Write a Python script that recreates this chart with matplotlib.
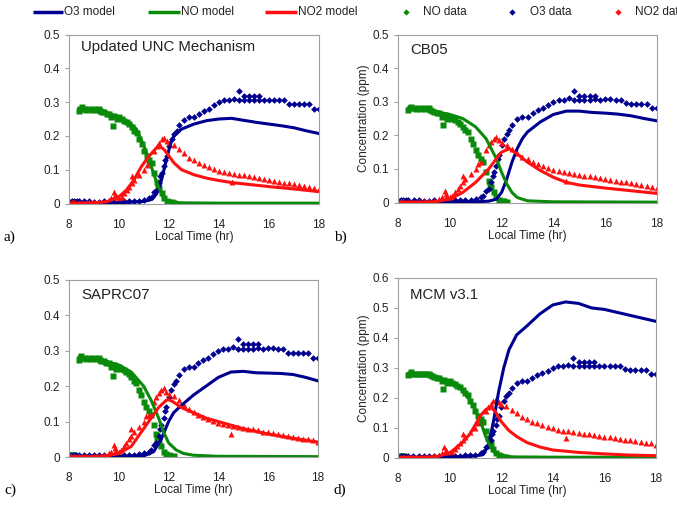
import matplotlib
matplotlib.use("Agg")
import matplotlib.pyplot as plt
from matplotlib.lines import Line2D

plt.rcParams['font.family'] = ['Liberation Sans', 'DejaVu Sans']

# ---------------- observed data (same in every panel) ----------------
obs_o3_t = [8.1, 8.2, 8.3, 8.4, 8.6, 8.8, 9.0, 9.2, 9.4, 9.6, 9.8, 10.0, 10.2, 10.4, 10.6, 10.8,
            11.0, 11.2, 11.3, 11.4, 11.5, 11.6, 11.65, 11.7, 11.8, 11.85, 11.9, 12.0, 12.1,
            12.2, 12.3, 12.4, 12.6, 12.8, 13.0, 13.2, 13.4, 13.6, 13.8, 14.0, 14.2, 14.4,
            14.6, 14.8, 14.8, 15.0, 15.0, 15.2, 15.2, 15.4, 15.4, 15.6, 15.6, 15.8, 16.0,
            16.2, 16.4, 16.6, 16.8, 17.0, 17.2, 17.4, 17.6, 17.8, 18.0]
obs_o3_v = [0.006, 0.006, 0.006, 0.006, 0.006, 0.006, 0.005, 0.005, 0.006, 0.005, 0.005, 0.005,
            0.006, 0.006, 0.007, 0.008, 0.01, 0.015, 0.02, 0.034, 0.04, 0.06, 0.08, 0.09,
            0.11, 0.13, 0.14, 0.17, 0.19, 0.205, 0.215, 0.232, 0.248, 0.255, 0.255, 0.265,
            0.275, 0.281, 0.29, 0.3, 0.305, 0.305, 0.31, 0.333, 0.305, 0.318, 0.305, 0.318,
            0.305, 0.318, 0.305, 0.318, 0.307, 0.305, 0.307, 0.307, 0.305, 0.305, 0.295,
            0.293, 0.293, 0.293, 0.293, 0.28, 0.28]

obs_no_t = [8.1, 8.15, 8.2, 8.4, 8.45, 8.5, 8.6, 8.7, 8.8, 8.9, 9.0, 9.1, 9.2, 9.25, 9.3, 9.4,
            9.5, 9.6, 9.7, 9.75, 9.8, 9.9, 10.0, 10.1, 10.2, 10.3, 10.4, 10.5, 10.6,
            10.7, 10.8, 10.9, 11.0, 11.1, 11.2, 11.3, 11.4, 11.5, 11.55, 11.6, 11.7, 11.8,
            11.9, 12.0, 12.1, 12.2]
obs_no_v = [0.005, 0.005, 0.005, 0.275, 0.28, 0.285, 0.28, 0.278, 0.28, 0.278, 0.28, 0.278,
            0.28, 0.275, 0.272, 0.27, 0.265, 0.265, 0.255, 0.23, 0.26, 0.25, 0.255, 0.25,
            0.245, 0.24, 0.235, 0.225, 0.215, 0.21, 0.19, 0.175, 0.155, 0.14, 0.13, 0.12,
            0.09, 0.065, 0.05, 0.045, 0.03, 0.015, 0.008, 0.005, 0.003, 0.002]

obs_no2_t = [8.1, 8.2, 8.4, 8.6, 8.8, 9.0, 9.2, 9.4, 9.6, 9.7, 9.8, 9.85, 9.9, 10.0, 10.1,
             10.2, 10.3, 10.4, 10.5, 10.5, 10.6, 10.8, 11.0, 11.1, 11.2, 11.4, 11.5, 11.6,
             11.7, 11.8, 11.9, 12.0, 12.2, 12.4, 12.6, 12.8, 13.0, 13.2, 13.4, 13.6, 13.8,
             14.0, 14.2, 14.4, 14.5, 14.6, 14.8, 15.0, 15.2, 15.4, 15.6, 15.8, 16.0, 16.2,
             16.4, 16.6, 16.8, 17.0, 17.2, 17.4, 17.6, 17.8, 18.0]
obs_no2_v = [0.003, 0.003, 0.002, 0.002, 0.003, 0.003, 0.003, 0.005, 0.01, 0.015, 0.035,
             0.025, 0.02, 0.015, 0.02, 0.03, 0.04, 0.05, 0.06, 0.08, 0.07, 0.085, 0.1,
             0.115, 0.12, 0.155, 0.17, 0.18, 0.19, 0.195, 0.185, 0.178, 0.172, 0.16, 0.148,
             0.136, 0.128, 0.12, 0.114, 0.108, 0.102, 0.097, 0.093, 0.09, 0.065, 0.088,
             0.085, 0.083, 0.08, 0.078, 0.075, 0.072, 0.07, 0.067, 0.064, 0.062, 0.06,
             0.057, 0.055, 0.052, 0.05, 0.047, 0.042]

# ---------------- model results per mechanism ----------------
panel_titles = ["Updated UNC Mechanism", "CB05", "SAPRC07", "MCM v3.1"]
panel_tags = ["a)", "b)", "c)", "d)"]
y_max = [0.5, 0.5, 0.5, 0.6]

o3_t = [[8.1, 9.0, 10.0, 11.0, 11.3, 11.5, 11.6, 11.7, 11.8, 11.9, 12.0, 12.1, 12.2, 12.5, 13.0, 13.5, 14.0, 14.5, 15.0, 15.5, 16.0, 16.5, 17.0, 17.5, 18.0],
        [8.1, 9.0, 10.0, 11.0, 11.5, 11.8, 12.0, 12.2, 12.4, 12.6, 12.8, 13.0, 13.5, 14.0, 14.5, 15.0, 15.5, 16.0, 16.5, 17.0, 17.5, 18.0],
        [8.1, 9.0, 10.0, 11.0, 11.4, 11.7, 12.0, 12.2, 12.5, 13.0, 13.5, 14.0, 14.5, 15.0, 15.5, 16.0, 16.5, 17.0, 17.5, 18.0],
        [8.1, 9.0, 10.0, 11.0, 11.3, 11.5, 11.7, 11.9, 12.1, 12.3, 12.6, 13.0, 13.5, 14.0, 14.5, 15.0, 15.5, 16.0, 16.5, 17.0, 17.5, 18.0]]
o3_v = [[0.001, 0.001, 0.002, 0.006, 0.012, 0.028, 0.045, 0.07, 0.1, 0.13, 0.16, 0.185, 0.2, 0.22, 0.235, 0.245, 0.25, 0.252, 0.246, 0.24, 0.235, 0.23, 0.224, 0.215, 0.207],
        [0.001, 0.001, 0.001, 0.002, 0.004, 0.01, 0.03, 0.07, 0.12, 0.16, 0.19, 0.21, 0.24, 0.262, 0.272, 0.272, 0.268, 0.266, 0.263, 0.258, 0.25, 0.243],
        [0.001, 0.001, 0.001, 0.003, 0.015, 0.05, 0.1, 0.125, 0.145, 0.175, 0.2, 0.225, 0.24, 0.242, 0.238, 0.237, 0.236, 0.233, 0.225, 0.215],
        [0.001, 0.001, 0.002, 0.005, 0.01, 0.04, 0.12, 0.22, 0.3, 0.36, 0.41, 0.44, 0.48, 0.51, 0.52, 0.515, 0.5, 0.495, 0.485, 0.475, 0.465, 0.455]]

no_t = [[8.4, 9.0, 9.5, 10.0, 10.4, 10.7, 11.0, 11.2, 11.4, 11.6, 11.8, 12.0, 12.5, 14.0, 18.0],
        [8.4, 9.0, 9.5, 10.0, 10.5, 11.0, 11.4, 11.8, 12.0, 12.2, 12.4, 12.6, 13.0, 14.0, 18.0],
        [8.4, 9.0, 9.5, 10.0, 10.5, 11.0, 11.3, 11.6, 11.8, 12.0, 12.3, 12.6, 13.0, 14.0, 18.0],
        [8.4, 9.0, 9.5, 10.0, 10.5, 10.8, 11.0, 11.2, 11.4, 11.5, 11.7, 12.0, 12.5, 14.0, 18.0]]
no_v = [[0.28, 0.276, 0.27, 0.255, 0.24, 0.22, 0.17, 0.13, 0.085, 0.045, 0.015, 0.005, 0.002, 0.001, 0.001],
        [0.28, 0.276, 0.27, 0.262, 0.25, 0.225, 0.19, 0.13, 0.09, 0.055, 0.03, 0.015, 0.005, 0.002, 0.001],
        [0.28, 0.276, 0.27, 0.26, 0.24, 0.2, 0.16, 0.11, 0.07, 0.04, 0.02, 0.01, 0.005, 0.002, 0.001],
        [0.28, 0.278, 0.27, 0.255, 0.225, 0.19, 0.16, 0.12, 0.07, 0.05, 0.02, 0.005, 0.002, 0.001, 0.001]]

no2_t = [[8.1, 9.0, 9.5, 10.0, 10.3, 10.6, 10.9, 11.2, 11.5, 11.6, 11.8, 12.0, 12.2, 12.5, 13.0, 13.5, 14.0, 14.5, 15.0, 16.0, 17.0, 18.0],
         [8.1, 9.0, 9.5, 10.0, 10.5, 11.0, 11.5, 11.8, 12.0, 12.3, 12.6, 13.0, 13.5, 14.0, 14.5, 15.0, 16.0, 17.0, 18.0],
         [8.1, 9.0, 9.5, 10.0, 10.5, 11.0, 11.3, 11.6, 11.9, 12.0, 12.2, 12.5, 13.0, 13.5, 14.0, 14.5, 15.0, 16.0, 17.0, 18.0],
         [8.1, 9.0, 9.5, 10.0, 10.5, 10.8, 11.0, 11.2, 11.4, 11.6, 11.8, 12.0, 12.3, 12.6, 13.0, 13.5, 14.0, 15.0, 16.0, 17.0, 18.0]]
no2_v = [[0.001, 0.002, 0.005, 0.02, 0.04, 0.07, 0.11, 0.14, 0.165, 0.17, 0.16, 0.14, 0.12, 0.1, 0.085, 0.075, 0.068, 0.062, 0.058, 0.05, 0.043, 0.035],
         [0.001, 0.001, 0.003, 0.01, 0.03, 0.06, 0.1, 0.13, 0.15, 0.16, 0.145, 0.12, 0.095, 0.075, 0.06, 0.052, 0.043, 0.035, 0.027],
         [0.001, 0.001, 0.003, 0.01, 0.03, 0.08, 0.11, 0.14, 0.16, 0.162, 0.155, 0.14, 0.125, 0.11, 0.1, 0.09, 0.08, 0.065, 0.053, 0.042],
         [0.001, 0.001, 0.003, 0.015, 0.05, 0.08, 0.11, 0.14, 0.16, 0.17, 0.15, 0.12, 0.09, 0.07, 0.05, 0.035, 0.025, 0.017, 0.012, 0.008, 0.006]]

x_ticks = [8, 10, 12, 14, 16, 18]

C_O3 = '#000090'
C_NO = '#0a8a0a'
C_NO2 = '#ff1010'

W, H = 677, 505
fig = plt.figure(figsize=(W / 100, H / 100), dpi=100)

# axes boxes in pixels: (left, right, top, bottom)
boxes = [(69, 319, 34.5, 203.5), (398, 657, 34.5, 202.5),
         (69, 318, 280, 457), (398, 656, 278, 457.5)]
tag_pos = [(4, 237), (334, 237), (4, 490), (334, 490)]
title_y = [0.925, 0.908, 0.915, 0.905]

for i in range(4):
    l, r, t, b = boxes[i]
    ax = fig.add_axes([l / W, 1 - b / H, (r - l) / W, (b - t) / H])
    ax.plot(o3_t[i], o3_v[i], color=C_O3, lw=2.2, zorder=3)
    ax.plot(no_t[i], no_v[i], color=C_NO, lw=2.2, zorder=3)
    ax.plot(no2_t[i], no2_v[i], color=C_NO2, lw=2.2, zorder=3)
    ax.plot(obs_no_t, obs_no_v, ls='none', marker='s', ms=3.8, color=C_NO, mec='none', zorder=2)
    ax.plot(obs_o3_t, obs_o3_v, ls='none', marker='D', ms=3.4, color=C_O3, mec='none', zorder=2)
    ax.plot(obs_no2_t, obs_no2_v, ls='none', marker='^', ms=4.4, color=C_NO2, mec='none', zorder=2)
    ax.set_xlim(8, 18)
    ax.set_ylim(0, y_max[i])
    ax.set_xticks(x_ticks)
    step = 0.1
    n = int(round(y_max[i] / step))
    ax.set_yticks([round(k * step, 1) for k in range(n + 1)])
    ax.set_yticklabels(['0'] + ['%.1f' % (k * step) for k in range(1, n + 1)])
    for s in ax.spines.values():
        s.set_color('#a0a0a0')
        s.set_linewidth(0.8)
    ax.tick_params(axis='both', labelsize=8.5, colors='#a0a0a0', labelcolor='#222222',
                   length=3, width=0.8)
    ax.tick_params(axis='x', direction='in', length=0, pad=11)
    ax.set_xlabel('Local Time (hr)', fontsize=8.5, color='#222222', labelpad=0)
    if i in (1, 3):
        ax.set_ylabel('Concentration (ppm)', fontsize=8.5, color='#222222', labelpad=2)
    ax.text(0.048, title_y[i], panel_titles[i], transform=ax.transAxes, fontsize=10.8,
            color='#222222', va='center', ha='left')
    fig.text(tag_pos[i][0] / W, 1 - tag_pos[i][1] / H, panel_tags[i],
             family='Liberation Serif', fontsize=11, va='center', ha='left')

# ---------------- legend across the top ----------------
leg_y = 1 - 12 / H
line_items = [(33, 63, C_O3, 'O3 model'), (148, 180, C_NO, 'NO model'),
              (265, 297, C_NO2, 'NO2 model')]
for x0, x1, c, lab in line_items:
    fig.add_artist(Line2D([x0 / W, x1 / W], [leg_y, leg_y], transform=fig.transFigure,
                          color=c, lw=2.5, solid_capstyle='butt'))
    fig.text((x1 + 1) / W, leg_y, lab, fontsize=8.5, va='center', ha='left', color='#222222')
marker_items = [(406, 423, C_NO, 'NO data'), (512, 530, C_O3, 'O3 data'),
                (618, 635, C_NO2, 'NO2 data')]
for xm, xt, c, lab in marker_items:
    fig.add_artist(Line2D([xm / W], [leg_y], transform=fig.transFigure, ls='none',
                          marker='D', ms=3.2, color=c, mec='none'))
    fig.text(xt / W, leg_y, lab, fontsize=8.5, va='center', ha='left', color='#222222')

fig.savefig('out.png', dpi=100)
